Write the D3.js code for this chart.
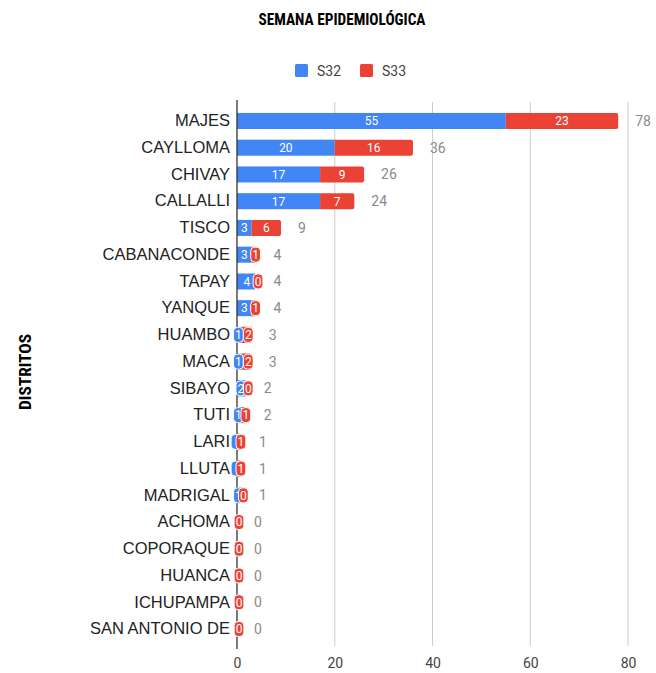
<!DOCTYPE html>
<html><head><meta charset="utf-8">
<script src="https://cdn.jsdelivr.net/npm/d3@7/dist/d3.min.js"></script>
<style>body{margin:0;background:#fff}svg{display:block}</style>
</head><body>
<svg id="chart" width="656" height="673"></svg>
<script>
const categories = ["MAJES","CAYLLOMA","CHIVAY","CALLALLI","TISCO","CABANACONDE","TAPAY","YANQUE","HUAMBO","MACA","SIBAYO","TUTI","LARI","LLUTA","MADRIGAL","ACHOMA","COPORAQUE","HUANCA","ICHUPAMPA","SAN ANTONIO DE"];
const s32 = [55,20,17,17,3,3,4,3,1,1,2,1,0,0,1,0,0,0,0,0];
const s33 = [23,16,9,7,6,1,0,1,2,2,0,1,1,1,0,0,0,0,0,0];
const seriesNames = ["S32","S33"];
const xTicks = [0,20,40,60,80];
const colors = ["#4285f4","#ea4335"];

const svg = d3.select("#chart");
const font = "Roboto, 'Noto Sans', sans-serif";
const arial = "'Liberation Sans', Arial, sans-serif";
const narrow = "'Liberation Sans Narrow', 'Arial Narrow', 'Roboto Condensed', 'Liberation Sans', sans-serif";
const x = d3.scaleLinear().domain([0,80]).range([237,628]);
const y = d3.scaleBand().domain(categories).range([107.6,642.4]).paddingInner(0.4).paddingOuter(0.2);

// grid
svg.append("g").selectAll("line").data(xTicks.filter(d=>d>0)).join("line")
  .attr("x1",d=>x(d)).attr("x2",d=>x(d)).attr("y1",102).attr("y2",646)
  .attr("stroke","#cccccc").attr("stroke-width",1);

// x axis tick labels
const xAxis = d3.axisBottom(x).tickValues(xTicks).tickSize(0).tickPadding(0);
const gx = svg.append("g").attr("transform","translate(0,658)").call(xAxis);
gx.select(".domain").remove();
gx.selectAll("text").attr("font-family",font).attr("font-size",14).attr("fill","#444").attr("dy","0.71em");

const rows = categories.map((c,i)=>({c, v:[s32[i],s33[i]]}));
rows.forEach(r=>{
  let acc=0;
  r.segs = r.v.map((v,k)=>{const s={k,v,x0:acc,x1:acc+v}; acc+=v; return s;});
  r.total=acc;
});

// bars
const gb = svg.append("g");
rows.forEach(r=>{
  r.segs.forEach(s=>{
    if(s.v<=0) return;
    const last = s.k===1 || r.segs[1].v===0;
    const x0=x(s.x0), w=x(s.x1)-x(s.x0), yy=y(r.c), h=y.bandwidth();
    if(last){
      const rr=Math.min(2,w/2);
      gb.append("path").attr("fill",colors[s.k])
        .attr("d",`M${x0},${yy}H${x0+w-rr}Q${x0+w},${yy} ${x0+w},${yy+rr}V${yy+h-rr}Q${x0+w},${yy+h} ${x0+w-rr},${yy+h}H${x0}Z`);
    } else {
      gb.append("rect").attr("x",x0).attr("y",yy).attr("width",w).attr("height",h).attr("fill",colors[s.k]);
    }
  });
});

// axis line at 0
svg.append("line").attr("x1",x(0)).attr("x2",x(0)).attr("y1",100).attr("y2",649).attr("stroke","#333").attr("stroke-width",1.3);

// segment labels
const gl = svg.append("g");
rows.forEach(r=>{
  const both0 = r.total===0;
  r.segs.forEach(s=>{
    const txt=String(s.v);
    const tw = txt.length*6.8;
    const cx0 = (x(s.x0)+x(s.x1))/2;
    const w = x(s.x1)-x(s.x0);
    const cy = y(r.c)+y.bandwidth()/2;
    let cx=cx0;
    if(w < tw+3){
      if(s.k===0) cx = Math.max(cx0-1, x(0)-1);
      else cx = Math.max(cx0+1.5, x(0)+2);
      if(both0 && s.k===0) return;
      const bw = tw+3;
      gl.append("rect").attr("x",cx-bw/2).attr("y",cy-7.5).attr("width",bw).attr("height",15)
        .attr("rx",4).attr("fill",colors[s.k]).attr("stroke","#fff").attr("stroke-width",1);
      if(s.k===0 && s.v===0) return;
    }
    gl.append("text").attr("x",cx).attr("y",cy).attr("dy","0.36em").attr("text-anchor","middle")
      .attr("font-family",font).attr("font-size",12).attr("fill","#fff").text(txt);
  });
  gl.append("text").attr("x",x(r.total)+17).attr("y",y(r.c)+y.bandwidth()/2).attr("dy","0.36em")
    .attr("font-family",font).attr("font-size",14).attr("fill","#8a8a8a").text(r.total);
});

// y axis category labels
const yAxis = d3.axisLeft(y).tickSize(0).tickPadding(0);
const gy = svg.append("g").attr("transform","translate(230,0)").call(yAxis);
gy.select(".domain").remove();
gy.selectAll("text").attr("font-family",arial).attr("font-size",16.5).attr("fill","#222");

// title
svg.append("text").attr("x",342).attr("y",25).attr("text-anchor","middle")
  .attr("font-family",narrow).attr("font-weight","bold").attr("font-size",16).attr("fill","#000")
  .attr("textLength",167).attr("lengthAdjust","spacingAndGlyphs").text("SEMANA EPIDEMIOLÓGICA");

// y title
svg.append("text").attr("transform","translate(31,372) rotate(-90)").attr("text-anchor","middle")
  .attr("font-family",narrow).attr("font-weight","bold").attr("font-size",17).attr("fill","#000")
  .attr("textLength",76).attr("lengthAdjust","spacingAndGlyphs").text("DISTRITOS");

// legend
const legX=[295,360];
const lg = svg.append("g");
seriesNames.forEach((n,i)=>{
  lg.append("rect").attr("x",legX[i]).attr("y",64).attr("width",13).attr("height",13).attr("rx",1.5).attr("fill",colors[i]);
  lg.append("text").attr("x",legX[i]+22).attr("y",70.5).attr("dy","0.36em")
    .attr("font-family",font).attr("font-size",14).attr("fill","#444").text(n);
});
</script>
</body></html>
